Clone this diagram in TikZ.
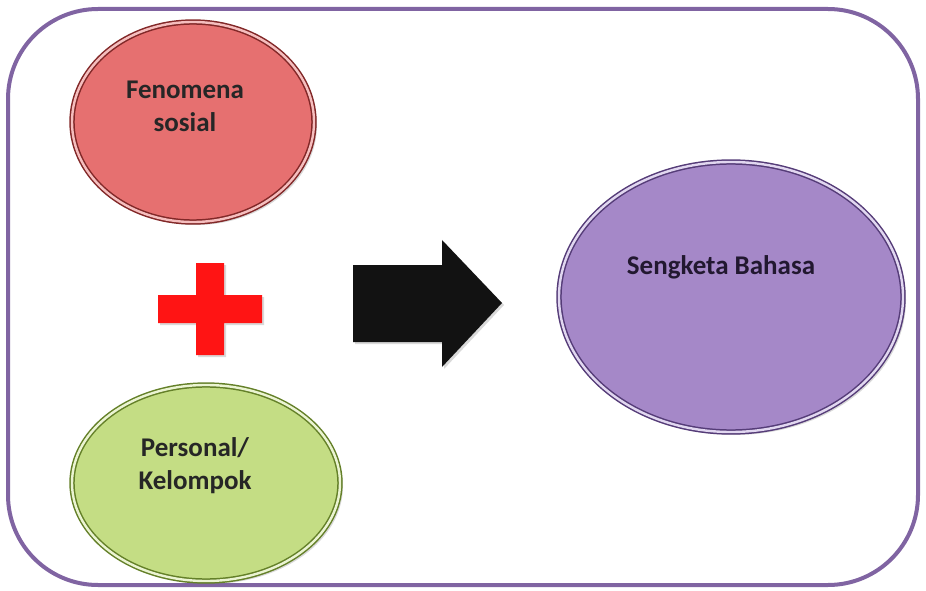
\documentclass[tikz,border=0pt]{standalone}
\usepackage{fontspec}
\setmainfont{Carlito}
\usetikzlibrary{shapes.geometric,shadows}

\definecolor{framepurple}{RGB}{128,100,162}
\definecolor{fenofill}{RGB}{230,112,112}
\definecolor{fenorim}{RGB}{130,40,40}
\definecolor{fenolight}{RGB}{245,190,190}
\definecolor{persfill}{RGB}{196,221,132}
\definecolor{persrim}{RGB}{100,128,40}
\definecolor{perslight}{RGB}{235,244,210}
\definecolor{sengfill}{RGB}{165,136,200}
\definecolor{sengrim}{RGB}{85,60,120}
\definecolor{senglight}{RGB}{225,215,240}
\definecolor{plusred}{RGB}{255,20,20}

\begin{document}
\begin{tikzpicture}[x=1pt,y=1pt,
   bubble/.style={ellipse,inner sep=0pt,line width=1.5pt,double distance=2.4pt,
      drop shadow={shadow xshift=3pt,shadow yshift=-3pt,opacity=.3}},
   bubbletext/.style={align=center,inner sep=0pt,
      font=\fontsize{27}{33}\selectfont\bfseries}]
   \useasboundingbox (0,0) rectangle (926,590);
   \draw[framepurple,line width=4pt,rounded corners=90pt] (8,5) rectangle (918,581);

   \node[bubble,fill=fenofill,draw=fenorim,double=fenolight,
      minimum width=242,minimum height=200] (feno) at (193,468) {};
   \node[bubbletext,text=black!85] (feno-txt) at ([shift={(-8,16)}]feno.center) {Fenomena\\sosial};

   \node[bubble,fill=persfill,draw=persrim,double=perslight,
      minimum width=268,minimum height=196] (pers) at (206,107) {};
   \node[bubbletext,text=black!85] (pers-txt) at ([shift={(-11,17)}]pers.center) {Personal/\\Kelompok};

   \node[bubble,fill=sengfill,draw=sengrim,double=senglight,
      minimum width=344,minimum height=270] (seng) at (731,293) {};
   \node[bubbletext,text=sengrim!40!black] (seng-txt) at ([shift={(-10,30)}]seng.center) {Sengketa Bahasa};

   \fill[plusred,drop shadow={shadow xshift=2pt,shadow yshift=-2pt,opacity=.3}]
      (196,327) -- (224,327) -- (224,295) -- (262,295) -- (262,267) -- (224,267)
      -- (224,235) -- (196,235) -- (196,267) -- (158,267) -- (158,295) -- (196,295) -- cycle;
   \fill[black!93,drop shadow={shadow xshift=2pt,shadow yshift=-2pt,opacity=.3}]
      (353,325) -- (442,325) -- (442,350) -- (502,287) -- (442,223) -- (442,248) -- (353,248) -- cycle;
\end{tikzpicture}
\end{document}
